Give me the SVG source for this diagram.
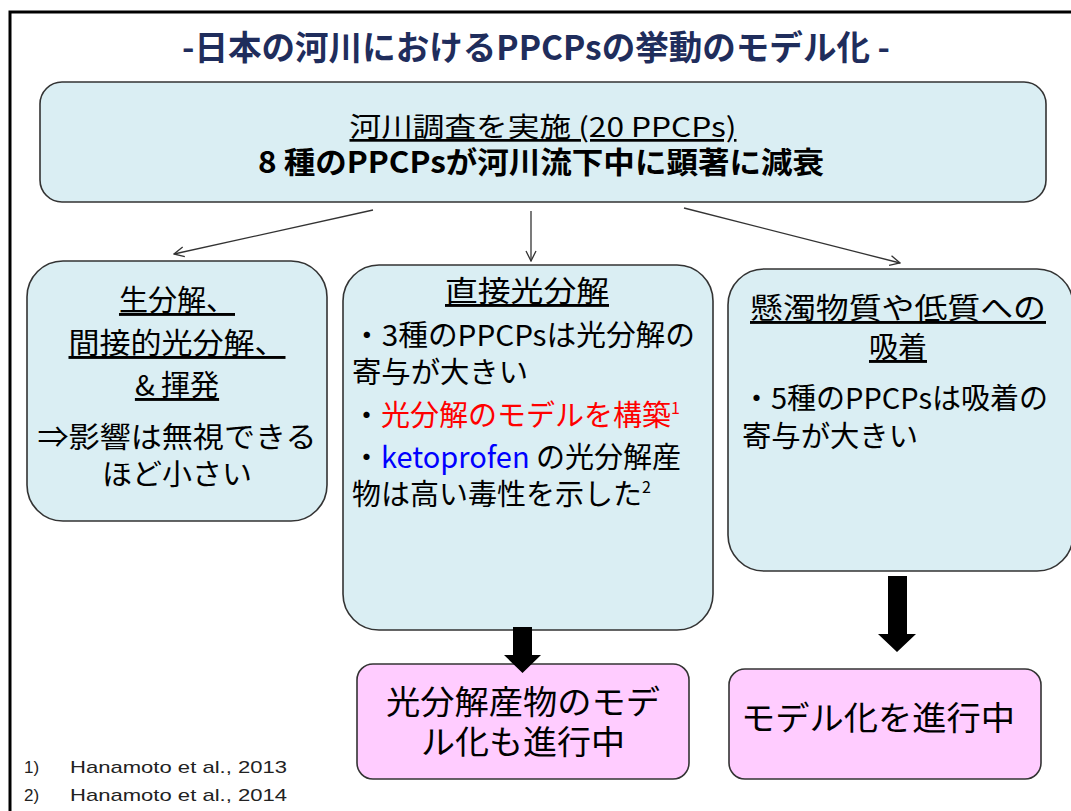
<svg xmlns="http://www.w3.org/2000/svg" width="1071" height="811" viewBox="0 0 1071 811">
<defs>
<style>
.jp{font-family:"Noto Sans CJK JP","Noto Sans",sans-serif;fill:#000;}
.box{fill:#DAEEF3;stroke:#333;stroke-width:1.6;}
.pink{fill:#FFCCFF;stroke:#333;stroke-width:1.6;}
.conn{stroke:#333;stroke-width:1.3;fill:none;}
.ul{text-decoration:underline;}
.fn{font-family:"Liberation Sans","Noto Sans",sans-serif;font-size:17px;fill:#222;}
</style>
<marker id="open" viewBox="0 0 12 12" refX="11" refY="6" markerWidth="12" markerHeight="12" markerUnits="userSpaceOnUse" orient="auto">
<path d="M1,1 L11,6 L1,11" fill="none" stroke="#333" stroke-width="1.3"/>
</marker>
</defs>
<rect width="1071" height="811" fill="#fff"/>
<path d="M10,811 L10,12 L1071,12" fill="none" stroke="#000" stroke-width="3"/>
<text class="jp" x="536" y="60" font-size="34" font-weight="bold" style="fill:#1F2D5C" text-anchor="middle" textLength="708" lengthAdjust="spacingAndGlyphs">-日本の河川におけるPPCPsの挙動のモデル化 -</text>

<g id="node-survey">
<rect class="box" x="40" y="82" width="1006" height="120" rx="22"/>
<text class="jp ul" x="543" y="137" font-size="27" text-anchor="middle" textLength="387" lengthAdjust="spacingAndGlyphs">河川調査を実施  (20 PPCPs)</text>
<text class="jp" x="541" y="173" font-size="30" font-weight="bold" text-anchor="middle" textLength="566" lengthAdjust="spacingAndGlyphs">8 種のPPCPsが河川流下中に顕著に減衰</text>
</g>

<g id="node-bio">
<rect class="box" x="27" y="261" width="300" height="260" rx="36"/>
<text class="jp ul" x="177" y="311" font-size="29" text-anchor="middle">生分解、</text>
<text class="jp ul" x="177" y="354" font-size="29" text-anchor="middle" textLength="217" lengthAdjust="spacingAndGlyphs">間接的光分解、</text>
<text class="jp ul" x="177" y="396" font-size="29" text-anchor="middle">&amp; 揮発</text>
<text class="jp" x="177" y="448" font-size="29" text-anchor="middle" textLength="279" lengthAdjust="spacingAndGlyphs">⇒影響は無視できる</text>
<text class="jp" x="177" y="485" font-size="29" text-anchor="middle" textLength="150" lengthAdjust="spacingAndGlyphs">ほど小さい</text>
</g>

<g id="node-photo">
<rect class="box" x="343" y="265" width="370" height="365" rx="36"/>
<text class="jp ul" x="527" y="302" font-size="29" text-anchor="middle" textLength="164" lengthAdjust="spacingAndGlyphs">直接光分解</text>
<text class="jp" x="352" y="346" font-size="29" textLength="343" lengthAdjust="spacingAndGlyphs">・3種のPPCPsは光分解の</text>
<text class="jp" x="352" y="383" font-size="29" textLength="176" lengthAdjust="spacingAndGlyphs">寄与が大きい</text>
<text class="jp" x="352" y="426" font-size="29">・<tspan style="fill:#FF0000">光分解のモデルを構築<tspan font-size="16" dy="-12">1</tspan></tspan></text>
<text class="jp" x="352" y="468" font-size="29">・<tspan style="fill:#0000FF">ketoprofen</tspan> の光分解産</text>
<text class="jp" x="352" y="505" font-size="29">物は高い毒性を示した<tspan font-size="16" dy="-12">2</tspan></text>
</g>

<g id="node-sorption">
<rect class="box" x="728" y="269" width="345" height="302" rx="36"/>
<text class="jp ul" x="898" y="319" font-size="29" text-anchor="middle" textLength="296" lengthAdjust="spacingAndGlyphs">懸濁物質や低質への</text>
<text class="jp ul" x="898" y="358" font-size="29" text-anchor="middle">吸着</text>
<text class="jp" x="742" y="409" font-size="29" textLength="306" lengthAdjust="spacingAndGlyphs">・5種のPPCPsは吸着の</text>
<text class="jp" x="742" y="447" font-size="29" textLength="176" lengthAdjust="spacingAndGlyphs">寄与が大きい</text>
</g>

<g id="node-product">
<rect class="pink" x="357" y="664" width="332" height="115" rx="16"/>
<text class="jp" x="523" y="714" font-size="33" text-anchor="middle" textLength="274" lengthAdjust="spacingAndGlyphs">光分解産物のモデ</text>
<text class="jp" x="523" y="754" font-size="33" text-anchor="middle" textLength="204" lengthAdjust="spacingAndGlyphs">ル化も進行中</text>
</g>

<g id="node-modeling">
<rect class="pink" x="729" y="669" width="312" height="110" rx="16"/>
<text class="jp" x="878" y="730" font-size="33" text-anchor="middle" textLength="274" lengthAdjust="spacingAndGlyphs">モデル化を進行中</text>
</g>

<g id="connectors">
<line class="conn" x1="373" y1="210" x2="174" y2="254" marker-end="url(#open)"/>
<line class="conn" x1="531" y1="211" x2="531" y2="261" marker-end="url(#open)"/>
<line class="conn" x1="684" y1="208" x2="900" y2="263" marker-end="url(#open)"/>
<path d="M513,627 L532,627 L532,655 L541,655 L522.5,673 L504,655 L513,655 Z" fill="#000"/>
<path d="M888,576 L907,576 L907,634 L916,634 L897,652 L878,634 L888,634 Z" fill="#000"/>
</g>

<text class="fn" x="24" y="773">1)</text>
<text class="fn" x="70" y="773" textLength="217" lengthAdjust="spacingAndGlyphs">Hanamoto et al., 2013</text>
<text class="fn" x="24" y="801">2)</text>
<text class="fn" x="70" y="801" textLength="217" lengthAdjust="spacingAndGlyphs">Hanamoto et al., 2014</text>
</svg>
